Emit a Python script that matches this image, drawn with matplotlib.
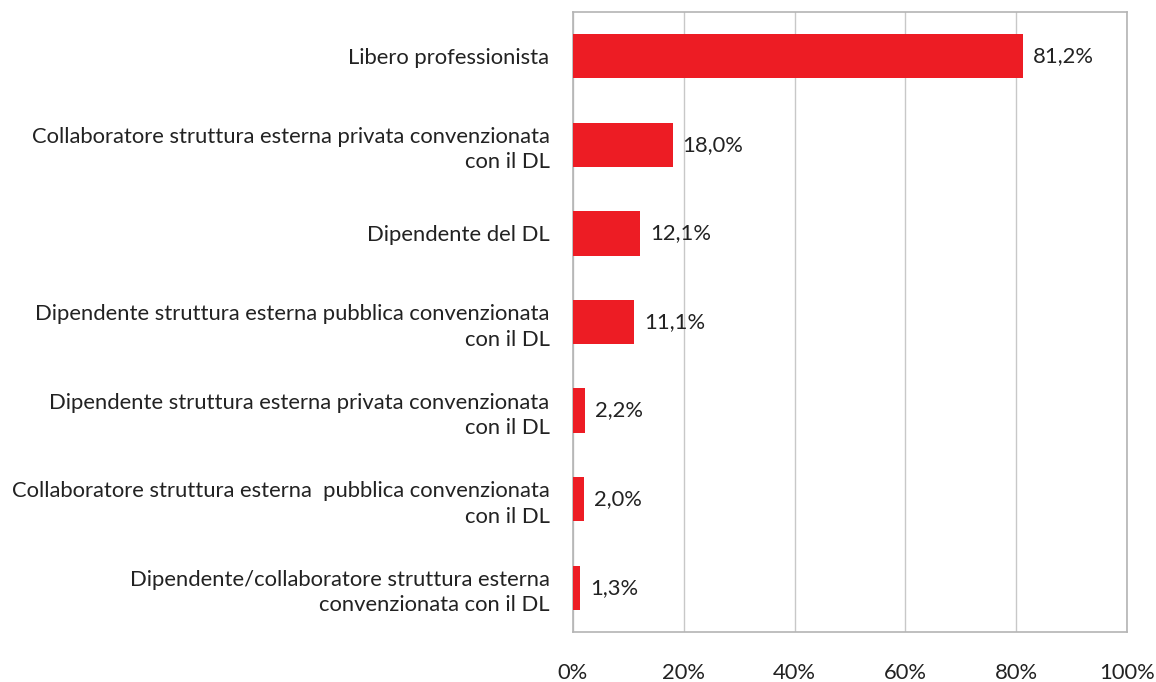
import numpy as np
import matplotlib.pyplot as plt

categories = [
    "Libero professionista",
    "Collaboratore struttura esterna privata convenzionata\ncon il DL",
    "Dipendente del DL",
    "Dipendente struttura esterna pubblica convenzionata\ncon il DL",
    "Dipendente struttura esterna privata convenzionata\ncon il DL",
    "Collaboratore struttura esterna  pubblica convenzionata\ncon il DL",
    "Dipendente/collaboratore struttura esterna\nconvenzionata con il DL",
]
values = [81.2, 18.0, 12.1, 11.1, 2.2, 2.0, 1.3]
value_labels = ["81,2%", "18,0%", "12,1%", "11,1%", "2,2%", "2,0%", "1,3%"]
xticks = [0, 20, 40, 60, 80, 100]

plt.rcParams['font.family'] = ['Lato', 'DejaVu Sans']
FS = 15.8

fig = plt.figure(figsize=(11.56, 6.82), dpi=100)
ax = fig.add_axes([573 / 1156, 1 - 632 / 682, 554 / 1156, 620 / 682])

y = np.arange(len(categories))
ax.barh(y, values, height=0.5, color="#ed1c24", zorder=3)
for yi, v, lab in zip(y, values, value_labels):
    ax.annotate(lab, (v, yi), xytext=(7, 0), textcoords="offset points",
                va="center", ha="left", fontsize=FS, color="#222222", zorder=4)

ax.set_xlim(0, 100)
ax.set_ylim(len(categories) - 0.5, -0.5)
ax.set_xticks(xticks)
ax.set_xticklabels([f"{t}%" for t in xticks], fontsize=FS, color="#222222")
ax.set_yticks(y)
ax.set_yticklabels(categories, fontsize=FS, color="#222222", ha="right",
                   multialignment="right", linespacing=1.35)
ax.tick_params(axis="both", length=0)
ax.tick_params(axis="x", pad=22)
ax.tick_params(axis="y", pad=17)
ax.grid(axis="x", color="#c8c8c8", linewidth=1, zorder=0)
for s in ax.spines.values():
    s.set_color("#b4b4b4")
    s.set_linewidth(1.2)

fig.savefig("out.png", dpi=100)
